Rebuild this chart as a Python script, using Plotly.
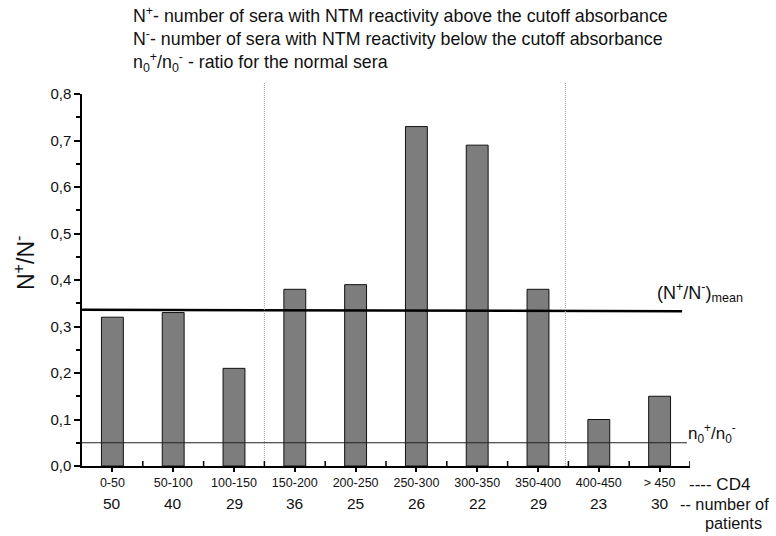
import plotly.graph_objects as go

cd4_groups = ["0-50", "50-100", "100-150", "150-200", "200-250", "250-300",
              "300-350", "350-400", "400-450", "> 450"]
ratio_values = [0.32, 0.33, 0.21, 0.38, 0.39, 0.73, 0.69, 0.38, 0.10, 0.15]
patients = [50, 40, 29, 36, 25, 26, 22, 29, 23, 30]
mean_ratio_left = 0.336
mean_ratio_right = 0.333
normal_ratio = 0.05
separator_positions = [2.5, 7.45]
y_ticks = [0.0, 0.1, 0.2, 0.3, 0.4, 0.5, 0.6, 0.7, 0.8]

FONT = "Liberation Sans, Arial, sans-serif"
xs = list(range(len(cd4_groups)))

fig = go.Figure()
fig.add_trace(go.Bar(
    x=xs, y=ratio_values, width=0.36,
    marker=dict(color="#7d7d7d", line=dict(color="#111111", width=1)),
    showlegend=False, hoverinfo="skip",
))

shapes = []
shapes.append(dict(type="line", xref="x", yref="y", x0=-0.5, x1=9.37,
                   y0=mean_ratio_left, y1=mean_ratio_right,
                   line=dict(color="black", width=2.5)))
shapes.append(dict(type="line", xref="x", yref="y", x0=-0.5, x1=9.45,
                   y0=normal_ratio, y1=normal_ratio,
                   line=dict(color="#222222", width=1)))
for sx in separator_positions:
    shapes.append(dict(type="line", xref="x", yref="paper", x0=sx, x1=sx,
                       y0=0, y1=1.032, line=dict(color="#9a9a9a", width=1, dash="1px,1px")))
for i in range(len(cd4_groups)):
    shapes.append(dict(type="line", xref="x", yref="y", ysizemode="pixel", yanchor=0,
                       x0=i + 0.5, x1=i + 0.5, y0=0, y1=5,
                       line=dict(color="black", width=1.5)))
fig.update_layout(shapes=shapes)

annotations = []
for i, n in enumerate(patients):
    annotations.append(dict(x=i, y=0, xref="x", yref="y", yshift=-37,
                            text=str(n), showarrow=False,
                            font=dict(size=15.5, family=FONT, color="#111111")))


def px(xp, yp):
    return (xp - 82) / 608.0, (466 - yp) / 372.0


header = [
    ("N<sup>+</sup>- number of sera with NTM reactivity above the cutoff absorbance", 15),
    ("N<sup>-</sup>- number of sera with NTM reactivity below the cutoff absorbance", 38),
    ("n<sub>0</sub><sup>+</sup>/n<sub>0</sub><sup>-</sup> - ratio for the normal sera", 62),
]
for txt, yp in header:
    x, y = px(131, yp)
    annotations.append(dict(x=x, y=y, xref="paper", yref="paper", xanchor="left",
                            yanchor="middle", text=txt, showarrow=False,
                            font=dict(size=17.8, family=FONT, color="#111111")))


def label(xp, yp, text, size, anchor="left", angle=0):
    x, y = px(xp, yp)
    annotations.append(dict(x=x, y=y, xref="paper", yref="paper", xanchor=anchor,
                            yanchor="middle", text=text, showarrow=False, textangle=angle,
                            font=dict(size=size, family=FONT, color="#111111")))


label(655, 292, "(N<sup>+</sup>/N<sup>-</sup>)<sub>mean</sub>", 18)
label(686, 433, "n<sub>0</sub><sup>+</sup>/n<sub>0</sub><sup>-</sup>", 17)
label(687, 484, "---- CD4", 17)
label(678, 504, "-- number of", 16.3)
label(703, 523, "patients", 16.3)
label(24, 263, "N<sup>+</sup>/N<sup>-</sup>", 23, anchor="center", angle=-90)
fig.update_layout(annotations=annotations)

fig.update_layout(
    width=776, height=536,
    margin=dict(l=82, r=86, t=94, b=70),
    paper_bgcolor="white", plot_bgcolor="white",
    separators=", ",
    font=dict(family=FONT, color="#111111"),
    xaxis=dict(
        tickmode="array", tickvals=xs, ticktext=cd4_groups,
        range=[-0.5, 9.5], showgrid=False, zeroline=False,
        showline=True, linecolor="black", linewidth=1.5,
        ticks="outside", tickson="boundaries", ticklen=4, tickwidth=1.5, tickcolor="black",
        tickfont=dict(size=12.5, family=FONT, color="#111111"),
        fixedrange=True,
    ),
    yaxis=dict(
        range=[0, 0.8], tickvals=y_ticks, tickformat=".1f",
        showgrid=False, zeroline=False,
        showline=True, linecolor="black", linewidth=1.5,
        ticks="outside", ticklen=6, tickwidth=1.5, tickcolor="black",
        tickfont=dict(size=15, family=FONT, color="#111111"),
        minor=dict(dtick=0.05, ticks="outside", ticklen=4, tickwidth=1.5, tickcolor="black"),
        fixedrange=True,
    ),
)

fig.write_html("out.html")
